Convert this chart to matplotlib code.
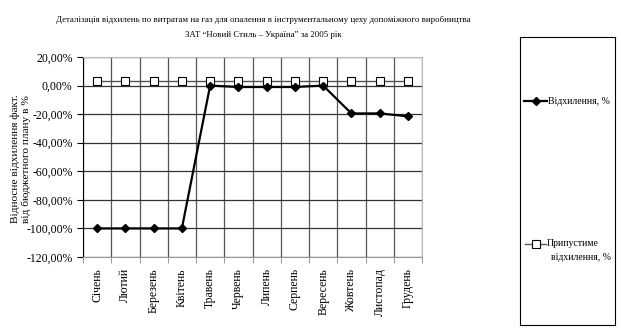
import numpy as np
import matplotlib.pyplot as plt
from matplotlib.ticker import FuncFormatter

plt.rcParams['font.family'] = ['Liberation Serif', 'DejaVu Serif']

months = ["Січень", "Лютий", "Березень", "Квітень", "Травень", "Червень",
          "Липень", "Серпень", "Вересень", "Жовтень", "Листопад", "Грудень"]
deviation = [-100, -100, -100, -100, 0, -1, -1, -1, 0, -19.5, -19.5, -21.5]
allowed = [3, 3, 3, 3, 3, 3, 3, 3, 3, 3, 3, 3]

fig = plt.figure(figsize=(6.21, 3.35), dpi=100)
ax = fig.add_axes([83/621, 1 - 257/335, 339/621, 200/335])

x = np.arange(len(months))
ax.plot(x, allowed, color='#555555', lw=1, marker='s', ms=5.5,
        mfc='white', mec='black', mew=0.8, zorder=3)
ax.plot(x, deviation, color='black', lw=1.6, marker='D', ms=4.5,
        mfc='black', mec='black', zorder=4)

ax.set_xlim(-0.5, len(months) - 0.5)
ax.set_ylim(-120, 20)
ax.set_yticks(np.arange(-120, 21, 20))
ax.yaxis.set_major_formatter(FuncFormatter(lambda v, p: ("%.2f%%" % v).replace('.', ',')))
ax.set_xticks(x)
ax.set_xticklabels(months, rotation=90, fontsize=8.5)
ax.tick_params(axis='x', length=0, pad=8)
ax.set_xticks(np.arange(-0.5, len(months), 1), minor=True)
ax.tick_params(axis='x', which='minor', length=4, direction='out', color='#888888')
ax.tick_params(axis='y', labelsize=8.5, length=4, color='black')
ax.grid(axis='y', color='#333333', lw=0.9)
ax.grid(axis='x', which='minor', color='#555555', lw=0.9)
for s in ['top', 'right']:
    ax.spines[s].set_color('#bbbbbb')
ax.spines['left'].set_color('black')
ax.spines['bottom'].set_color('#999999')

ax.set_ylabel("Відносне відхилення факт.\nвід бюджетного плану в %", fontsize=8.2)
ax.yaxis.set_label_coords(-0.152, 0.49)

fig.text(263/621, 1 - 20/335, "Деталізація відхилень по витратам на газ для опалення в інструментальному цеху допоміжного виробництва",
         ha='center', va='center', fontsize=6.3)
fig.text(263/621, 1 - 35/335, "ЗАТ “Новий Стиль – Україна” за 2005 рік",
         ha='center', va='center', fontsize=6.3)

# legend box
lax = fig.add_axes([520/621, 1 - 325/335, 95/621, 288/335])
lax.set_xticks([])
lax.set_yticks([])
for s in lax.spines.values():
    s.set_color('black')
    s.set_linewidth(0.8)
lax.set_xlim(0, 95)
lax.set_ylim(288, 0)
lax.plot([4, 27], [64, 64], color='black', lw=1.6)
lax.plot([16], [64], marker='D', ms=4.5, color='black')
lax.text(28, 64, "Відхилення, %", va='center', fontsize=7)
lax.plot([5, 26], [207, 207], color='#555555', lw=1)
lax.plot([16], [207], marker='s', ms=5.5, mfc='white', mec='black', mew=0.8)
lax.text(27, 207, "Припустиме", va='center', fontsize=7)
lax.text(31, 220, "відхилення, %", va='center', fontsize=7)

fig.savefig("out.png", dpi=100)
